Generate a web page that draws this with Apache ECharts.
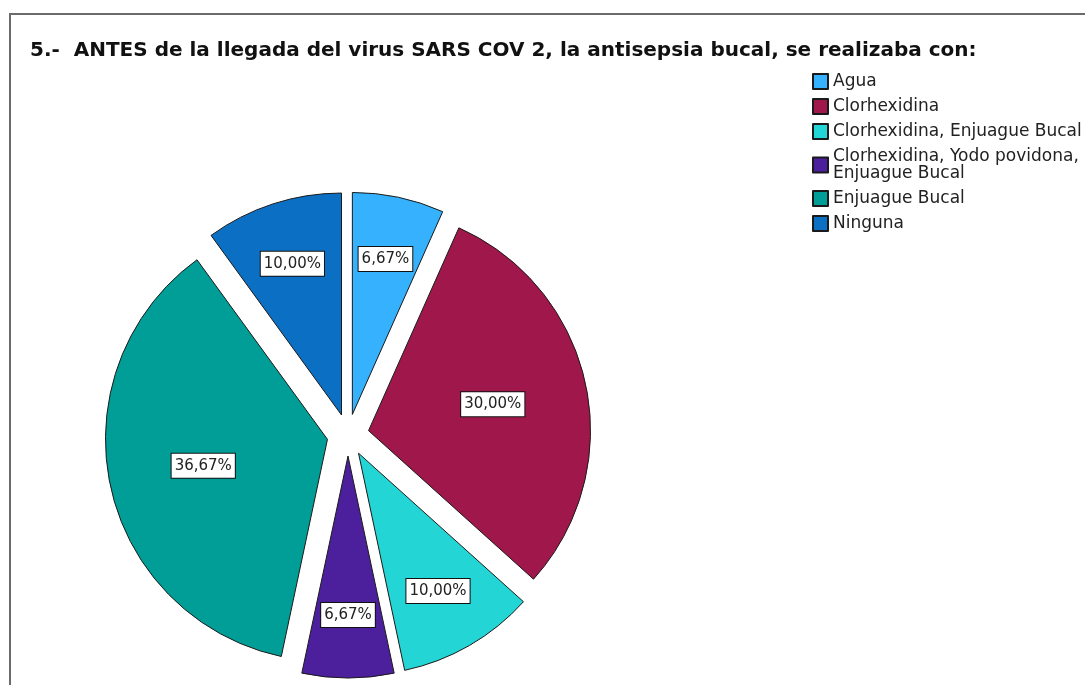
<!DOCTYPE html>
<html>
<head>
<meta charset="utf-8">
<script src="https://cdn.jsdelivr.net/npm/echarts@6/dist/echarts.min.js"></script>
<style>
  html, body { margin: 0; padding: 0; background: #fff; }
  .frame {
    position: absolute; left: 9px; top: 13px; width: 1100px; height: 700px;
    border-left: 2px solid #6b6b6b; border-top: 2px solid #6b6b6b;
  }
  #chart { position: absolute; left: 0; top: 0; width: 1085px; height: 685px; }
</style>
</head>
<body>
<div class="frame"></div>
<div id="chart"></div>
<script>
// categorias y porcentajes
const categorias = [
  "Agua",
  "Clorhexidina",
  "Clorhexidina, Enjuague Bucal",
  "Clorhexidina, Yodo povidona, Enjuague Bucal",
  "Enjuague Bucal",
  "Ninguna"
];
const porcentajes = [6.67, 30.0, 10.0, 6.67, 36.67, 10.0];
const colores = ["#35b1fd", "#a0184b", "#24d5d5", "#4c1f9c", "#009e96", "#0b6fc4"];
// small slices carry their label near the rim, big ones nearer the middle
const etiquetaExterior = [true, false, true, true, false, true];

const centro = [348, 435];
const radio = 222;
const separacion = 21;

function fmt(v) {
  return v.toFixed(2).replace(".", ",") + "%";
}

const labelStyle = {
  show: true,
  position: "inside",
  rotate: 0,
  color: "#222",
  fontFamily: "DejaVu Sans",
  fontSize: 15,
  lineHeight: 17,
  backgroundColor: "#fff",
  borderColor: "#111",
  borderWidth: 1,
  padding: [4, 3, 3, 3],
  formatter: p => fmt(p.value)
};

// transparent copy of the pie, only used to place the labels
// (needs a higher z, otherwise the labels end up under the real slices)
function labelSeries(r0, keep) {
  return {
    type: "pie",
    z: 5,
    silent: true,
    center: centro,
    radius: [r0, radio],
    selectedMode: "multiple",
    selectedOffset: separacion,
    emphasis: { disabled: true },
    itemStyle: { color: "rgba(255,255,255,0)", borderWidth: 0 },
    label: Object.assign({}, labelStyle, { show: false }),
    labelLine: { show: false },
    data: categorias.map((c, i) => ({
      name: c,
      value: porcentajes[i],
      selected: true,
      label: Object.assign({}, labelStyle, { show: etiquetaExterior[i] === keep })
    }))
  };
}

const chart = echarts.init(document.getElementById("chart"));
chart.setOption({
  animation: false,
  title: {
    text: "5.-  ANTES de la llegada del virus SARS COV 2, la antisepsia bucal, se realizaba con:",
    left: 30,
    top: 41,
    padding: 0,
    textStyle: {
      fontFamily: "DejaVu Sans",
      fontWeight: "bold",
      fontSize: 20,
      color: "#111"
    }
  },
  legend: {
    orient: "vertical",
    left: 812,
    top: 73,
    padding: 0,
    itemWidth: 15,
    itemHeight: 15,
    itemGap: 8,
    icon: "rect",
    data: categorias,
    formatter: n => n.replace("povidona, ", "povidona,\n"),
    textStyle: {
      fontFamily: "DejaVu Sans",
      fontSize: 17,
      lineHeight: 17,
      color: "#222"
    }
  },
  series: [
    {
      name: "antisepsia",
      type: "pie",
      z: 2,
      center: centro,
      radius: [0, radio],
      startAngle: 90,
      selectedMode: "multiple",
      selectedOffset: separacion,
      emphasis: { scale: false },
      itemStyle: { borderColor: "#1a1a1a", borderWidth: 1 },
      label: { show: false },
      labelLine: { show: false },
      data: categorias.map((c, i) => ({
        name: c,
        value: porcentajes[i],
        selected: true,
        itemStyle: { color: colores[i] }
      }))
    },
    labelSeries(90, true),
    labelSeries(26, false)
  ]
});
</script>
</body>
</html>
